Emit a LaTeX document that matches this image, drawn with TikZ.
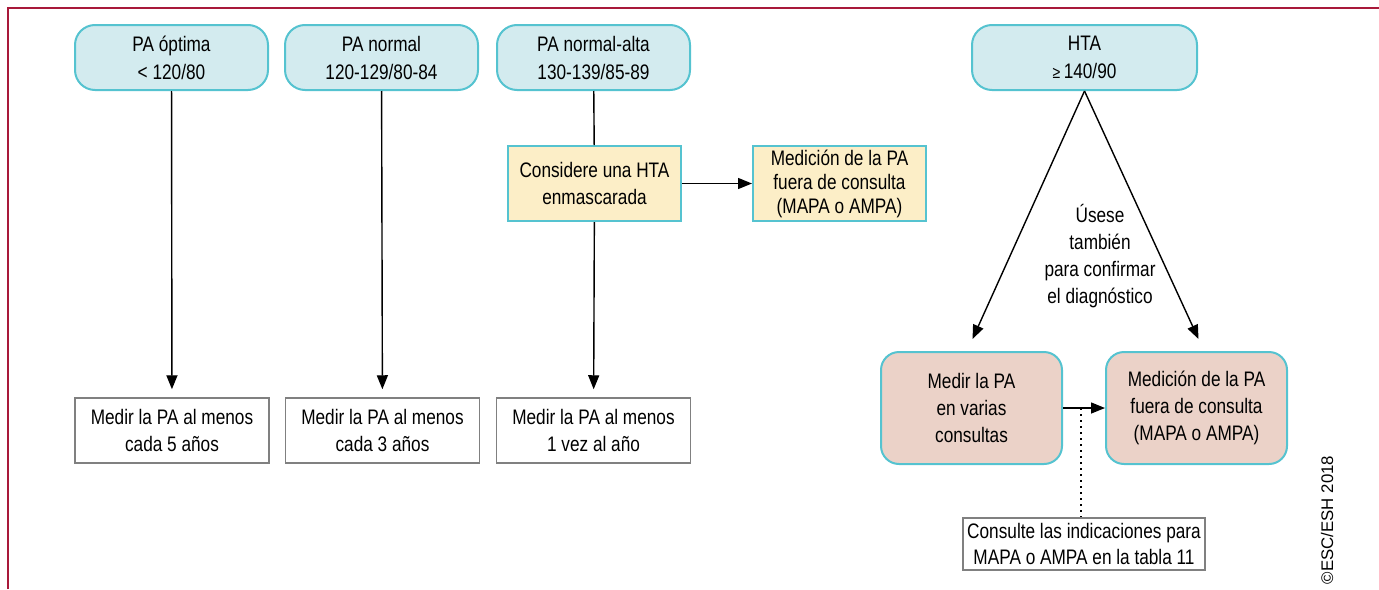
\documentclass[tikz,border=0pt]{standalone}
\usepackage{fontspec}
\setmainfont{Liberation Sans}[FakeStretch=0.82]
\newfontfamily\anchofont{Liberation Sans}
\usetikzlibrary{arrows.meta}

\definecolor{azulfondo}{HTML}{D3EBEF}
\definecolor{azulborde}{HTML}{55C3D0}
\definecolor{amarillo}{HTML}{FCEEC7}
\definecolor{rosa}{HTML}{EBD2C8}
\definecolor{grisborde}{HTML}{808080}
\definecolor{marcorojo}{HTML}{A8193A}

\begin{document}
\begin{tikzpicture}[x=0.5pt, y=-0.5pt,
    every node/.style={font=\fontsize{10.5}{13.5}\selectfont, align=center, inner sep=0pt},
    categoria/.style={draw=azulborde, line width=1pt, fill=azulfondo, rounded corners=10pt,
        minimum width=96.5pt, minimum height=32.5pt, font=\fontsize{10.5}{14}\selectfont},
    consejo/.style={draw=grisborde, line width=0.75pt, fill=white, minimum width=97pt, minimum height=32.5pt},
    sospecha/.style={draw=azulborde, line width=1pt, fill=amarillo, minimum width=86.5pt, minimum height=37.5pt},
    accion/.style={draw=azulborde, line width=1pt, fill=rosa, rounded corners=9pt,
        minimum width=90.5pt, minimum height=56pt},
    flecha/.style={-{Triangle[length=7pt, width=5.5pt]}, line width=0.7pt, shorten >=4pt}]
        \useasboundingbox (0,0) rectangle (1379,589);

        % marco
        \draw[marcorojo, line width=1pt] (8,589) -- (8,8) -- (1379,8);

        % categorias de PA en consulta
        \node[categoria] (optima) at (171.5,57.5) {PA óptima\\< 120/80};
        \node[categoria] (normal) at (381.5,57.5) {PA normal\\120-129/80-84};
        \node[categoria] (alta) at (593.5,57.5) {PA normal-alta\\130-139/85-89};
        \node[categoria, minimum width=112.5pt] (hta) at (1084.5,57.5) {HTA\\{\fontsize{8.5}{8}\selectfont≥}\,140/90};

        % HTA enmascarada
        \node[sospecha] (enmasc) at (594.5,183.5) {Considere una HTA\\enmascarada};
        \node[sospecha, font=\fontsize{10.5}{12}\selectfont] (fuera1) at (839.5,183.5)
            {Medición de la PA\\fuera de consulta\\(MAPA o AMPA)};

        % seguimiento
        \node[consejo] (cada5) at (172,430.5) {Medir la PA al menos\\cada 5 años};
        \node[consejo] (cada3) at (382.5,430.5) {Medir la PA al menos\\cada 3 años};
        \node[consejo] (anual) at (593.5,430.5) {Medir la PA al menos\\1 vez al año};

        % confirmacion de HTA
        \node[accion] (varias) at (971.5,408) {Medir la PA\\en varias\\consultas};
        \node[accion] (fuera2) at (1196.5,408) {Medición de la PA\\fuera de consulta\\(MAPA o AMPA)};
        \node (usese) at (1100,256.5) {Úsese\\también\\para confirmar\\el diagnóstico};
        \node[draw=grisborde, line width=0.75pt, minimum width=121pt, minimum height=26pt,
            font=\fontsize{10.5}{13}\selectfont] (nota) at (1084,544)
            {Consulte las indicaciones para\\MAPA o AMPA en la tabla 11};

        % flechas
        \draw[flecha] (optima) -- (cada5);
        \draw[flecha] (normal) -- (cada3);
        \draw[line width=0.7pt] (alta) -- (enmasc);
        \draw[flecha] (enmasc) -- (anual);
        \draw[flecha, shorten >=0pt] (enmasc) -- (fuera1);
        \draw[flecha, shorten >=0pt] (hta.south) -- ([xshift=0.5pt, yshift=6pt]varias.north);
        \draw[flecha, shorten >=0pt] (hta.south) -- ([xshift=1pt, yshift=6pt]fuera2.north);
        \draw[flecha, shorten >=0pt] (varias) -- (fuera2);
        \coordinate (cruce) at (1081,408);
        \draw[line width=1pt, dotted] (cruce) -- (cruce |- nota.north);

        % derechos
        \node[rotate=90, font=\anchofont\fontsize{8.4}{9}\selectfont] (derechos) at (1327,520) {©ESC/ESH 2018};
\end{tikzpicture}
\end{document}
